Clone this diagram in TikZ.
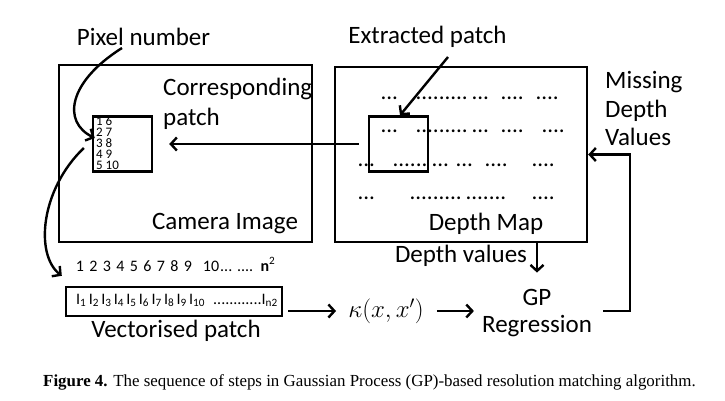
\documentclass[tikz,border=0pt]{standalone}
\usepackage{fontspec}
\setmainfont{Carlito}
\newfontfamily\capfont{Liberation Serif}
\usetikzlibrary{arrows.meta,calc}
\newcommand\dotrun[1]{\ifnum#1>0 .\expandafter\dotrun\expandafter{\the\numexpr#1-1\relax}\fi}
\tikzset{
  box/.style={draw, line width=2.4pt, inner sep=0pt},
  lbl/.style={inner sep=0pt, font=\fontsize{25}{30}\selectfont},
  small/.style={inner sep=0pt, font=\fontsize{16}{18}\selectfont},
  num/.style={inner sep=0pt, font=\fontsize{13}{11}\selectfont},
  dotf/.style={inner sep=0pt, font=\fontsize{23}{26}\selectfont},
  arr/.style={line width=2.4pt, -{Straight Barb[length=6pt,width=13pt,line width=2.4pt]}},
}
\begin{document}
\begin{tikzpicture}[x=1pt,y=-1pt]
\useasboundingbox (0,0) rectangle (725,400);
\fill[white] (0,0) rectangle (725,400);
% boxes
\node[box, minimum width=253pt, minimum height=177pt] (cam) at (185.5,153.5) {};
\node[box, minimum width=59pt, minimum height=55pt] (cpatch) at (122.5,144) {};
\node[box, minimum width=252pt, minimum height=175pt] (dmap) at (461,154.5) {};
\node[box, minimum width=59pt, minimum height=55pt] (dpatch) at (398.5,144) {};
\node[box, minimum width=216pt, minimum height=29pt] (vbox) at (174,301.5) {};
% labels
\node[lbl, anchor=base] (pix) at (143.5,45) {Pixel number};
\node[lbl, anchor=base west] (corr1) at (163,95) {Corresponding};
\node[lbl, anchor=base west] (corr2) at (163,125) {patch};
\node[lbl, anchor=base] (camlbl) at (225,229) {Camera Image};
\node[lbl, anchor=base] (ext) at (427.5,43) {Extracted patch};
\node[lbl, anchor=base west] (miss1) at (605,88) {Missing};
\node[lbl, anchor=base west] (miss2) at (605,117) {Depth};
\node[lbl, anchor=base west] (miss3) at (605,145) {Values};
\node[lbl, anchor=base] (dmlbl) at (486,230) {Depth Map};
\node[lbl, anchor=base] (dvals) at (461,262) {Depth values};
\node[lbl, anchor=base] (gp) at (537,305) {GP};
\node[lbl, anchor=base] (reg) at (537,332) {Regression};
\node[lbl, anchor=base] (vlbl) at (176,337) {Vectorised patch};
\node[inner sep=0pt, font=\fontsize{25}{30}\selectfont] (kappa) at (386,311) {$\kappa(x,x')$};
% patch numbers
\foreach \a/\b [count=\i] in {1/6,2/7,3/8,4/9,5/10}
  \node[num, anchor=base west] (pn\i) at (96,{114+11*\i}) {\a\ \b};
% top numbers
\foreach \k in {1,...,9}
  \node[small, anchor=base] (tn\k) at ({80+13.5*(\k-1)},271) {\k};
\node[small, anchor=base] (tn10) at (211,271) {10};
\node[small, anchor=base west] (tndots) at (220,271) {\dotrun{3} \dotrun{4}};
\node[small, anchor=base] (tnn) at (268,271) {\textbf{n}\textsuperscript{2}};
% vector entries
\foreach \k in {1,...,10}
  \node[small, anchor=base west] (iv\k) at ({76+12.55*(\k-1)},304) {I\textsubscript{\k}};
\node[small, anchor=base west] (ivdots) at (213,304) {\dotrun{12}I\textsubscript{n2}};
% depth dots
\foreach \x/\y/\n [count=\i] in {382/98/3, 417/98/9, 473/98/3, 502/98/4, 537/98/4,
  382/131/3, 417/131/9, 473/131/3, 502/131/4, 543/131/4,
  359/165/3, 394/165/6, 433/165/3, 457/165/3, 486/165/4, 533/165/4,
  359/198/3, 411/198/9, 467/198/7, 533/198/4}
  \node[dotf, anchor=base west] (dd\i) at ({\x-1.6},{\y+1.4}) {\dotrun{\n}};
% connectors
\coordinate (pixA) at (122,48);
\draw[arr] (pixA) .. controls (68,82) and (62,122) .. ([xshift=3pt,yshift=6pt]cpatch.west);
\draw[arr] ([xshift=-9pt]dpatch.west) -- ([xshift=16pt]cpatch.east);
\draw[arr] ([xshift=-8pt,yshift=-4pt]cpatch.west) .. controls (40,190) and (35,255) .. ([xshift=-3pt,yshift=10pt]vbox.north west);
\coordinate (extA) at (448,57);
\draw[arr] (extA) -- ([xshift=1.5pt]dpatch.north);
\draw[arr, shorten <=5pt, shorten >=12pt] (vbox.east |- kappa) -- (kappa.west);
\draw[arr, shorten <=13pt, shorten >=8pt] (kappa.east) -- (kappa.east -| reg.west);
\draw[arr, shorten >=16pt] (dmap.south -| gp) -- (gp.north);
\draw[arr] ($(kappa.east -| reg.east)+(11,0)$) -- ++(27,0) |- (dmap.east);
% caption
\node[inner sep=0pt, anchor=base west, font=\capfont\fontsize{16.9}{20}\selectfont] (cap) at (43,386)
  {\textbf{Figure 4.} The sequence of steps in Gaussian Process (GP)-based resolution matching algorithm.};
\end{tikzpicture}
\end{document}
